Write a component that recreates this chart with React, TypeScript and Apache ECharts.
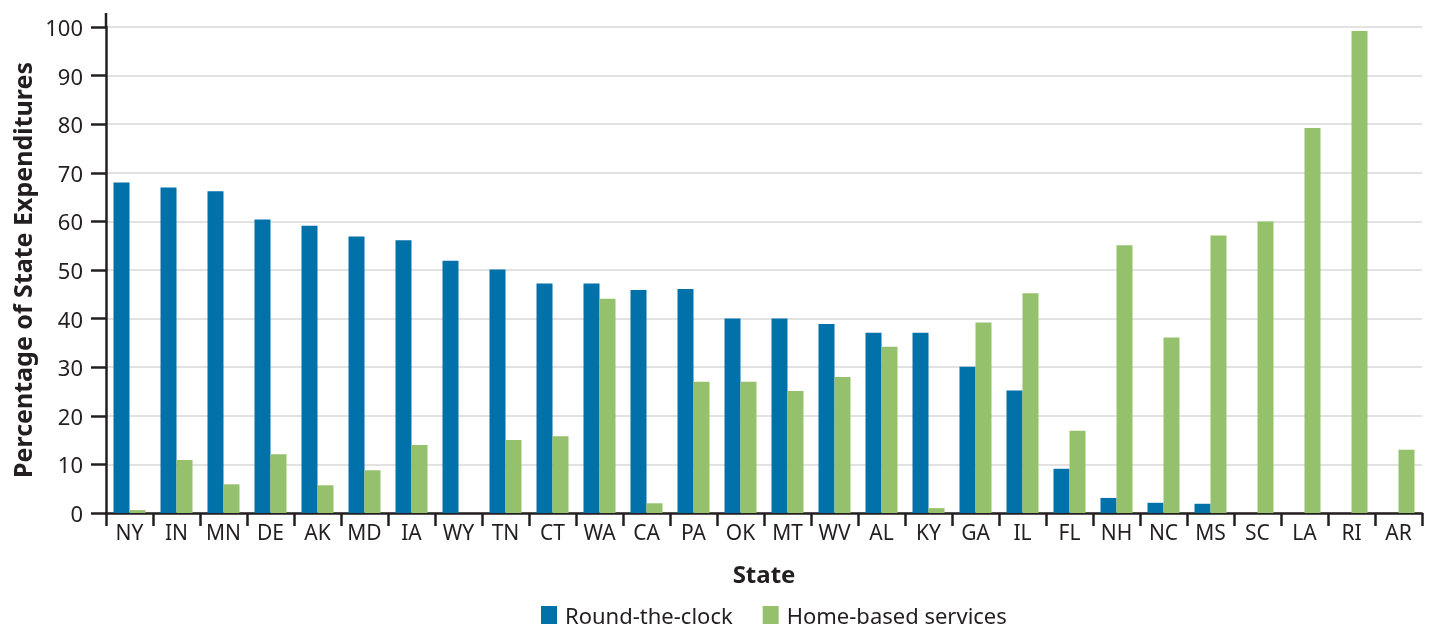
import React, { useEffect, useRef } from "react";
import * as echarts from "echarts";

const states = ["NY","IN","MN","DE","AK","MD","IA","WY","TN","CT","WA","CA","PA","OK","MT","WV","AL","KY","GA","IL","FL","NH","NC","MS","SC","LA","RI","AR"];
const roundTheClock = [68,67,66.2,60.4,59.1,56.9,56.1,51.9,50.1,47.2,47.2,45.9,46.1,40,40,38.9,37.1,37.1,30.1,25.2,9.1,3.1,2.1,1.9,0,0,0,0];
const homeBased = [0.6,10.9,5.9,12.1,5.7,8.8,14,0,15,15.8,44.1,2,27,27,25.1,28,34.2,1,39.2,45.2,16.9,55.1,36.1,57.1,60,79.2,99.2,13];
const yTicks = [0,10,20,30,40,50,60,70,80,90,100];

const FONT = "'Noto Sans', sans-serif";
const TEXT = "#231f20";
const BLUE = "#0071a9";
const GREEN = "#96c16c";

export default function App() {
  const ref = useRef<HTMLDivElement>(null);
  useEffect(() => {
    if (!ref.current) return;
    const chart = echarts.init(ref.current, null, { renderer: "svg" });
    chart.setOption({
      animation: false,
      textStyle: { fontFamily: FONT, color: TEXT },
      grid: { left: 106, right: 11, top: 27, bottom: 117, containLabel: false },
      legend: {
        top: 604,
        left: 541,
        padding: 0,
        icon: "rect",
        itemWidth: 16,
        itemHeight: 18,
        itemGap: 30,
        textStyle: { fontFamily: FONT, fontSize: 22, lineHeight: 18, color: TEXT, padding: [0, 0, 0, 3] },
        data: ["Round-the-clock", "Home-based services"],
      },
      xAxis: {
        type: "category",
        data: states,
        name: "State",
        nameLocation: "middle",
        nameGap: 48,
        nameTextStyle: { fontFamily: FONT, fontSize: 24, fontWeight: "bold", color: TEXT },
        axisLine: { lineStyle: { color: TEXT, width: 2.5 } },
        axisTick: { show: true, length: 13, lineStyle: { color: TEXT, width: 2.5 } },
        axisLabel: { fontFamily: FONT, fontSize: 21, color: TEXT, margin: 8, interval: 0 },
      },
      yAxis: {
        type: "value",
        min: yTicks[0],
        max: yTicks[yTicks.length - 1],
        interval: 10,
        name: "Percentage of State Expenditures",
        nameLocation: "middle",
        nameGap: 71,
        nameTextStyle: { fontFamily: FONT, fontSize: 25, fontWeight: "bold", color: TEXT },
        axisLine: { show: true, lineStyle: { color: TEXT, width: 2.5 } },
        axisTick: { show: true, length: 15, lineStyle: { color: TEXT, width: 2.5 } },
        axisLabel: { fontFamily: FONT, fontSize: 22, color: TEXT, margin: 23 },
        splitLine: { show: true, lineStyle: { color: "#d9d9d9", width: 1.5 } },
      },
      series: [
        {
          name: "Round-the-clock",
          type: "bar",
          data: roundTheClock,
          barWidth: 16,
          barGap: "0%",
          itemStyle: { color: BLUE },
        },
        {
          name: "Home-based services",
          type: "bar",
          data: homeBased,
          barWidth: 16,
          barGap: "0%",
          itemStyle: { color: GREEN },
        },
      ],
    });
    // extend y-axis line slightly above the top tick, as in the reference
    const top = chart.convertToPixel({ yAxisIndex: 0 }, yTicks[yTicks.length - 1]) as number;
    chart.setOption({
      graphic: [
        {
          type: "line",
          shape: { x1: 106, y1: top, x2: 106, y2: top - 14 },
          style: { stroke: TEXT, lineWidth: 2.5 },
          silent: true,
        },
      ],
    });
    return () => chart.dispose();
  }, []);
  return (
    <div
      ref={ref}
      style={{ position: "fixed", left: 0, top: 0, width: 1433, height: 630 }}
    />
  );
}
